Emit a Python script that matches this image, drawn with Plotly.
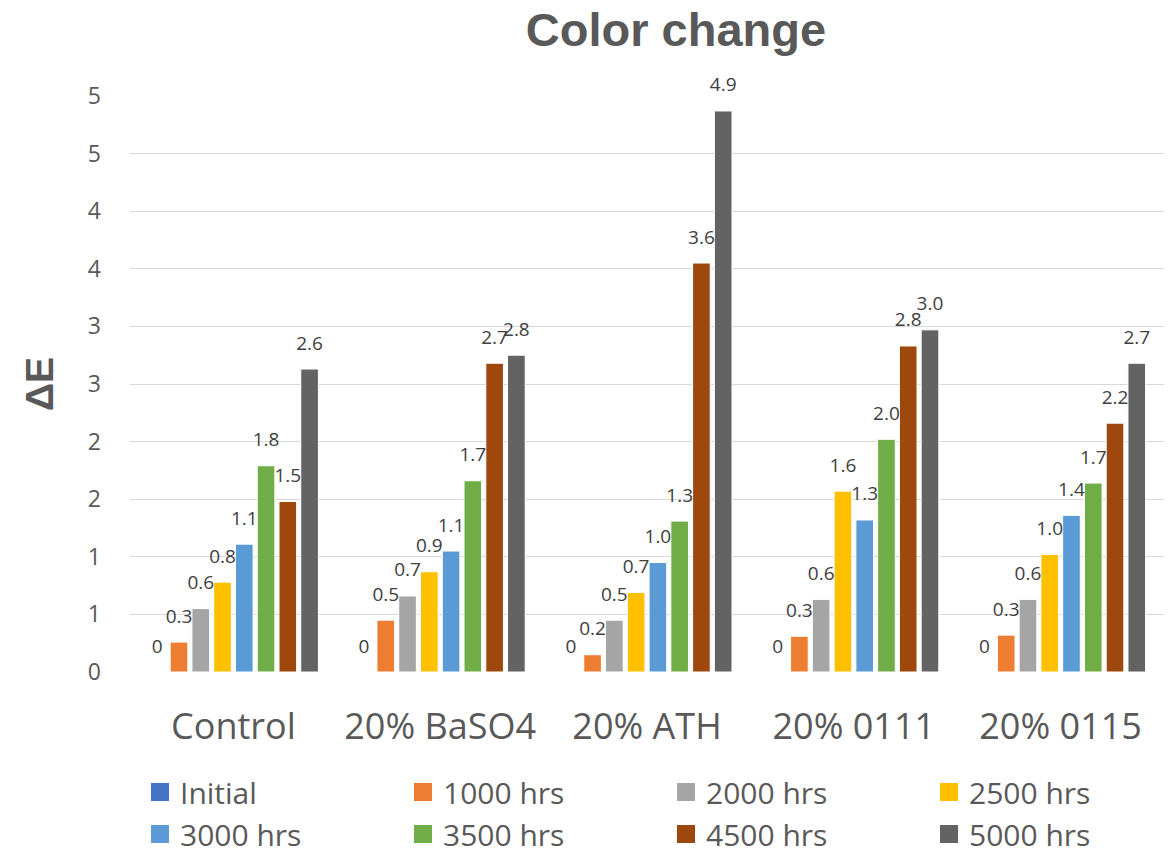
import plotly.graph_objects as go

categories = ["Control", "20% BaSO4", "20% ATH", "20% 0111", "20% 0115"]
series_names = ["Initial", "1000 hrs", "2000 hrs", "2500 hrs",
                "3000 hrs", "3500 hrs", "4500 hrs", "5000 hrs"]
colors = ["#4472C4", "#ED7D31", "#A5A5A5", "#FFC000",
          "#5B9BD5", "#70AD47", "#9E480E", "#636363"]

# bar heights
initial = [0, 0, 0, 0, 0]
h1000 = [0.26, 0.45, 0.15, 0.31, 0.32]
h2000 = [0.55, 0.66, 0.45, 0.63, 0.63]
h2500 = [0.78, 0.87, 0.69, 1.57, 1.02]
h3000 = [1.11, 1.05, 0.95, 1.32, 1.36]
h3500 = [1.79, 1.66, 1.31, 2.02, 1.64]
h4500 = [1.48, 2.68, 3.55, 2.83, 2.16]
h5000 = [2.63, 2.75, 4.87, 2.97, 2.68]

# data labels as printed on the chart
lab_initial = ["0", "0", "0", "0", "0"]
lab1000 = ["0.3", "0.5", "0.2", "0.3", "0.3"]
lab2000 = ["0.6", "0.7", "0.5", "0.6", "0.6"]
lab2500 = ["0.8", "0.9", "0.7", "1.6", "1.0"]
lab3000 = ["1.1", "1.1", "1.0", "1.3", "1.4"]
lab3500 = ["1.8", "1.7", "1.3", "2.0", "1.7"]
lab4500 = ["1.5", "2.7", "3.6", "2.8", "2.2"]
lab5000 = ["2.6", "2.8", "4.9", "3.0", "2.7"]

tick_vals = [0, 0.5, 1, 1.5, 2, 2.5, 3, 3.5, 4, 4.5, 5]
tick_text = ["0", "1", "1", "2", "2", "3", "3", "4", "4", "5", "5"]

values = [initial, h1000, h2000, h2500, h3000, h3500, h4500, h5000]
labels = [lab_initial, lab1000, lab2000, lab2500, lab3000, lab3500, lab4500, lab5000]

# legend is 4 columns x 2 rows, one legend box per column
legend_ids = ["legend", "legend2", "legend3", "legend4"]

fig = go.Figure()
for i, (name, vals, labs, col) in enumerate(zip(series_names, values, labels, colors)):
    fig.add_trace(go.Bar(
        x=categories, y=vals, name=name, offsetgroup=str(i),
        marker=dict(color=col, line=dict(color="white", width=1)),
        showlegend=False,
    ))
    # data labels: grouped scatter text, pushed up by an invisible marker
    fig.add_trace(go.Scatter(
        x=categories, y=vals, text=labs, mode="markers+text", offsetgroup=str(i),
        textposition="top center", cliponaxis=False, hoverinfo="skip",
        textfont=dict(family="Open Sans", size=19, color="#404040"),
        marker=dict(size=22, opacity=0), showlegend=False,
    ))
    # legend proxy with a bigger square swatch
    fig.add_trace(go.Scatter(
        x=[None], y=[None], mode="markers", name=name,
        legend=legend_ids[i % 4],
        marker=dict(symbol="square", size=16, color=col, line=dict(color=col, width=2)),
    ))

leg_style = dict(orientation="v", xref="container", xanchor="left",
                 yref="container", y=0.1103, yanchor="top",
                 font=dict(size=30, color="#595959"), tracegroupgap=0,
                 bgcolor="rgba(0,0,0,0)")
legends = {lid: dict(leg_style, x=(132 + 263 * k) / 1174) for k, lid in enumerate(legend_ids)}

fig.update_layout(
    width=1174, height=852,
    paper_bgcolor="white", plot_bgcolor="white",
    margin=dict(l=122, r=18, t=88, b=188, autoexpand=False),
    barmode="group", bargap=0.158, bargroupgap=0.19,
    scattermode="group", scattergap=0.158,
    font=dict(family="Open Sans", color="#595959"),
    title=dict(text="<b>Color change</b>", x=0.569, xref="container", xanchor="center",
               y=0.975, yref="container", yanchor="middle",
               font=dict(family="Liberation Sans", size=47, color="#595959")),
    annotations=[dict(text="<b>ΔE</b>", textangle=-90, showarrow=False,
                      xref="paper", x=-0.088, xanchor="center",
                      yref="paper", y=0.5, yanchor="middle",
                      font=dict(family="Liberation Sans", size=39, color="#595959"))],
    **legends,
)
fig.update_yaxes(
    range=[0, 5], tickvals=tick_vals, ticktext=tick_text, automargin=False,
    showgrid=True, gridcolor="#D9D9D9", gridwidth=1.3, zeroline=False,
    showline=False, ticks="", ticklabelstandoff=28,
    tickfont=dict(size=23, color="#595959"),
)
fig.update_xaxes(
    showline=False, ticks="", ticklabelstandoff=30, automargin=False, tickangle=0,
    tickfont=dict(size=36, color="#595959"),
)

fig.write_html("out.html")
